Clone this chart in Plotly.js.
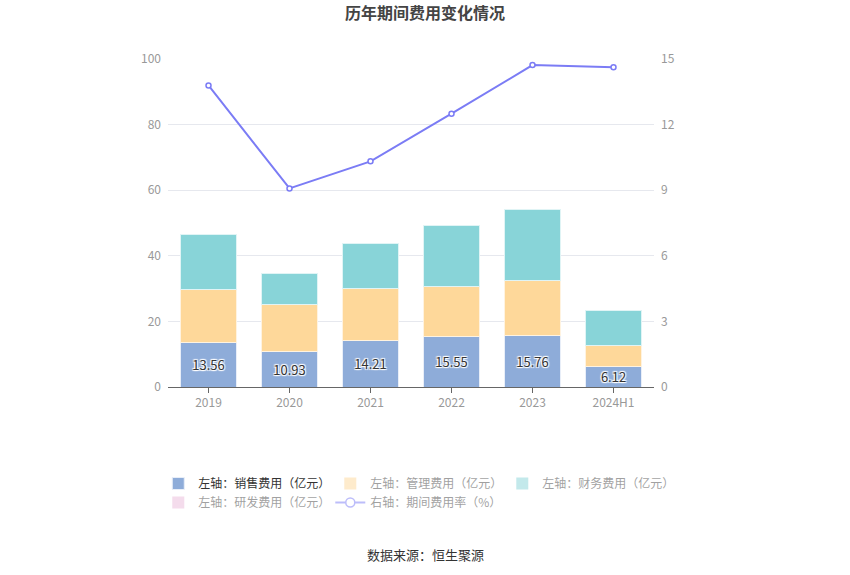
<!DOCTYPE html>
<html>
<head>
<meta charset="utf-8">
<script src="https://cdn.plot.ly/plotly-3.0.1.min.js"></script>
<style>html,body{margin:0;padding:0;background:#fff;}#chart{width:850px;height:575px;}</style>
</head>
<body>
<div id="chart"></div>
<script>
const categories = ['2019', '2020', '2021', '2022', '2023', '2024H1'];
const salesExpense = [13.56, 10.93, 14.21, 15.55, 15.76, 6.12];
const adminExpense = [16.3, 14.3, 15.7, 15.2, 16.6, 6.4];
const financeExpense = [16.7, 9.5, 13.9, 18.6, 21.7, 10.8];
const rdExpense = [null, null, null, null, null, null];
const expenseRate = [13.79, 9.08, 10.32, 12.5, 14.72, 14.62];
const leftTicks = [0, 20, 40, 60, 80, 100];
const rightTicks = [0, 3, 6, 9, 12, 15];

const FONT = '"Noto Sans CJK SC", "Noto Sans", sans-serif';
const C_SALES = '#8eacd9', C_ADMIN = '#fed89a', C_FIN = '#88d4d8', C_RD = '#eab9d9', C_LINE = '#7b7cf5';
const shadow = '1px 1px 1px #fff, -1px -1px 1px #fff, 1px -1px 1px #fff, -1px 1px 1px #fff';

const traces = [
  {type:'bar', x:categories, y:salesExpense, name:'<span style="color:#333">左轴：销售费用（亿元）</span>',
   marker:{color:C_SALES, line:{color:'#e8eef8', width:1}}, width:0.69,
   text:salesExpense.map(v=>v.toFixed(2)), textposition:'inside', insidetextanchor:'middle', constraintext:'none',
   textfont:{color:'#333', size:13, family:FONT, shadow:shadow}, hoverinfo:'skip', legendrank:1},
  {type:'bar', x:categories, y:adminExpense, name:'adm', showlegend:false,
   marker:{color:C_ADMIN, line:{color:'#fff3e0', width:1}}, width:0.69, hoverinfo:'skip'},
  {type:'bar', x:categories, y:financeExpense, name:'fin', showlegend:false,
   marker:{color:C_FIN, line:{color:'#e0f4f5', width:1}}, width:0.69, hoverinfo:'skip'},
  {type:'scatter', mode:'lines+markers', x:categories, y:expenseRate, yaxis:'y2', showlegend:false,
   line:{color:C_LINE, width:2}, marker:{symbol:'circle', size:5, color:'#fff', line:{color:C_LINE, width:1.5}}, hoverinfo:'skip'},
  // legend entries (faded like reference)
  {type:'bar', x:categories, y:adminExpense, name:'左轴：管理费用（亿元）', visible:'legendonly',
   marker:{color:C_ADMIN}, legendrank:2},
  {type:'bar', x:categories, y:financeExpense, name:'左轴：财务费用（亿元）', visible:'legendonly',
   marker:{color:C_FIN}, legendrank:3},
  {type:'bar', x:categories, y:rdExpense, name:'左轴：研发费用（亿元）', visible:'legendonly',
   marker:{color:C_RD}, legendrank:4},
  {type:'scatter', mode:'lines+markers', x:categories, y:expenseRate, yaxis:'y2', name:'右轴：期间费用率（%）', visible:'legendonly',
   line:{color:C_LINE, width:2}, marker:{symbol:'circle', size:9, color:'#fff', line:{color:C_LINE, width:1.5}}, legendrank:5}
];

const layout = {
  width:850, height:575,
  margin:{l:168, r:196, t:59, b:188},
  paper_bgcolor:'#fff', plot_bgcolor:'#fff',
  font:{family:FONT, color:'#999', size:12},
  barmode:'stack', bargap:0.31,
  title:{text:'<b>历年期间费用变化情况</b>', x:0.5, xanchor:'center', y:0.976, yanchor:'middle', font:{size:16, color:'#444', family:FONT}},
  xaxis:{type:'category', categoryarray:categories, showgrid:false, showline:true, linecolor:'#666', linewidth:1,
    ticks:'outside', ticklen:5, tickcolor:'#666', tickfont:{size:12, color:'#999'}, fixedrange:true},
  yaxis:{range:[0,100], tickvals:leftTicks, showgrid:true, gridcolor:'#e6e8ee', zeroline:false, showline:false,
    tickfont:{size:12, color:'#999'}, ticklabelstandoff:6, fixedrange:true},
  yaxis2:{range:[0,15], tickvals:rightTicks, overlaying:'y', side:'right', showgrid:false, zeroline:false, showline:false,
    tickfont:{size:12, color:'#999'}, ticklabelstandoff:6, fixedrange:true},
  legend:{orientation:'h', xref:'paper', yref:'paper', x:-0.02, xanchor:'left', y:-0.25, yanchor:'top',
    font:{size:12, color:'#444', family:FONT}, entrywidth:127, itemwidth:30, tracegroupgap:0, traceorder:'normal'},
  annotations:[{text:'数据来源：恒生聚源', xref:'paper', yref:'paper', x:0.5, y:(387-554)/328, xanchor:'center', yanchor:'middle',
    showarrow:false, font:{size:13, color:'#333', family:FONT}, xshift:14}],
  showlegend:true
};

Plotly.newPlot('chart', traces, layout, {displayModeBar:false, staticPlot:true});
</script>
</body>
</html>
